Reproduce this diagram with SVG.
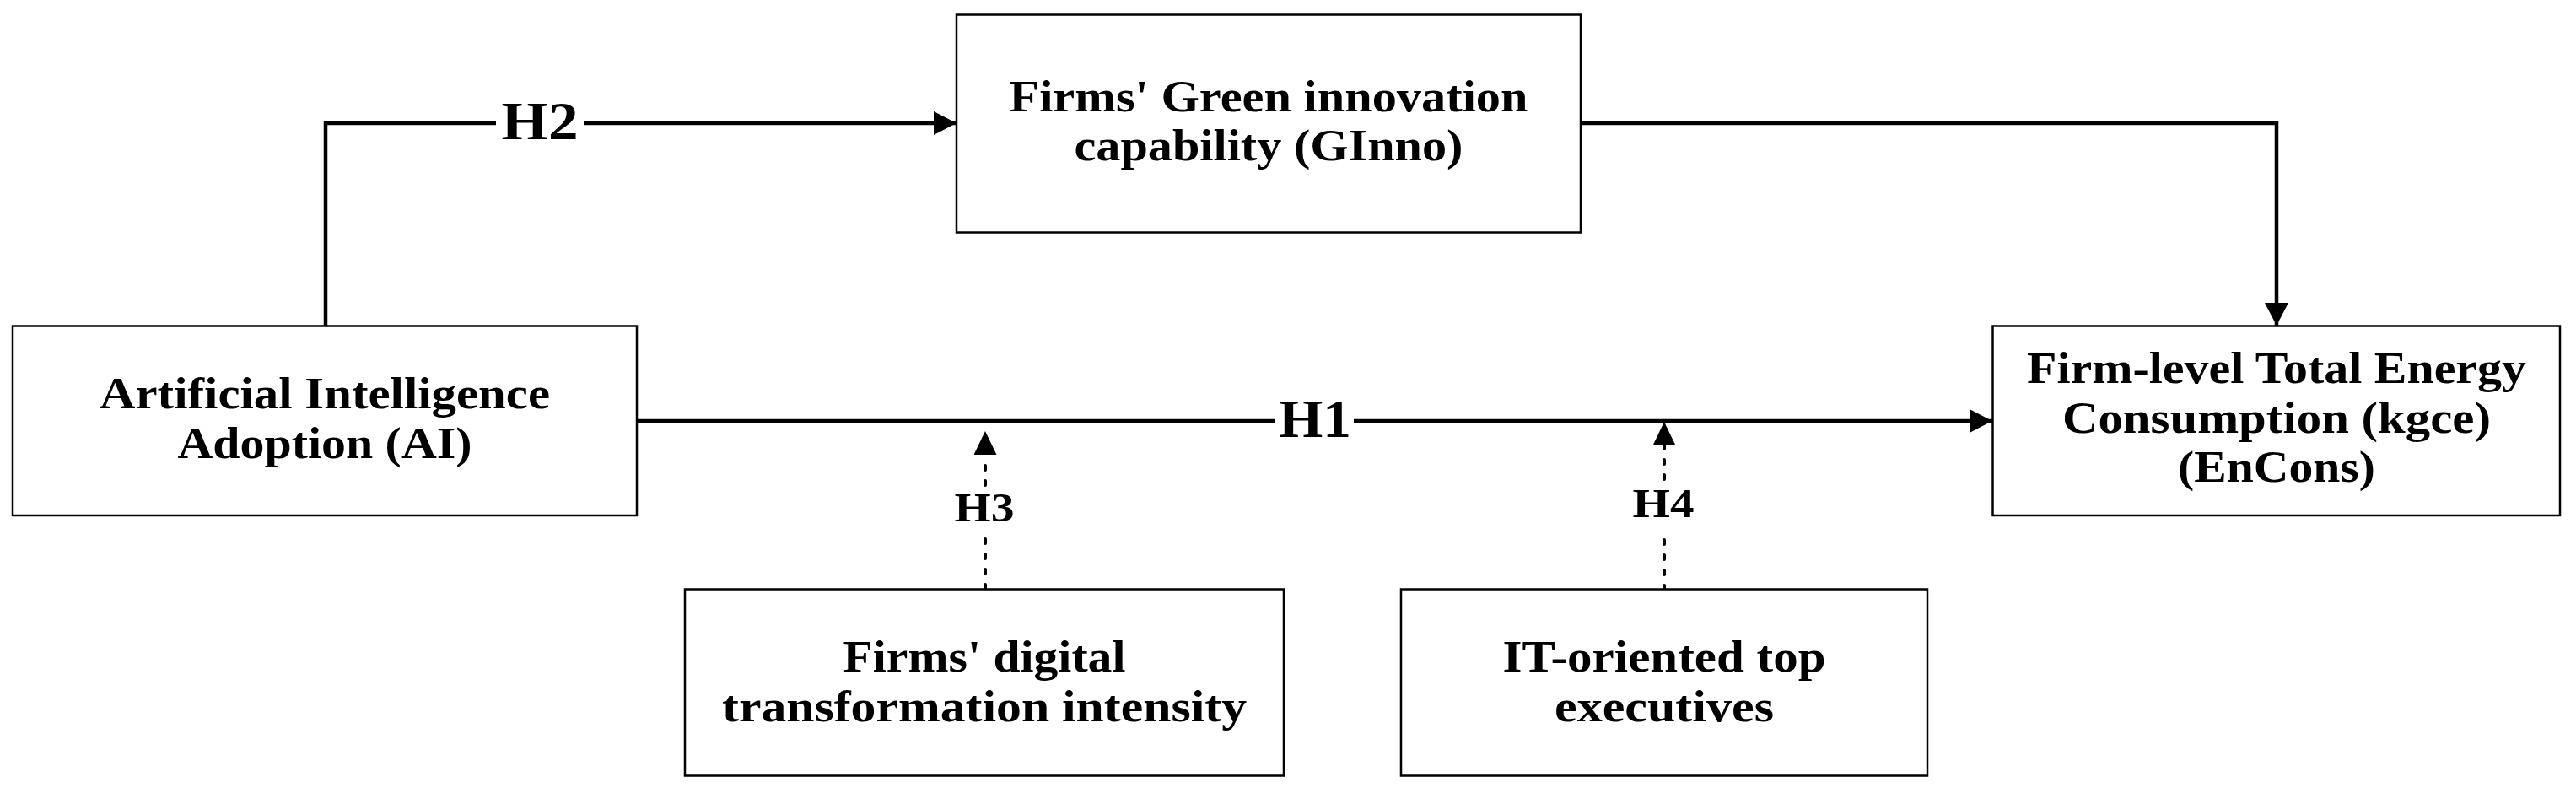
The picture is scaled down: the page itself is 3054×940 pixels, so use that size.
<svg xmlns="http://www.w3.org/2000/svg" width="3054" height="940" viewBox="0 0 3054 940">
<style>
.box{fill:#fff;stroke:#000;stroke-width:2.5}
.t{font-family:"Liberation Serif","Times New Roman",serif;font-weight:bold;font-size:52px;fill:#000;text-anchor:middle}
.h{font-family:"Liberation Serif","Times New Roman",serif;font-weight:bold;fill:#000;text-anchor:middle}
.ln{fill:none;stroke:#000;stroke-width:4.5}
.dl{fill:none;stroke:#000;stroke-width:4;stroke-dasharray:5 13;stroke-linecap:round}
</style>
<defs>
<marker id="ah" markerUnits="userSpaceOnUse" markerWidth="28" markerHeight="28" refX="27" refY="14" orient="auto" viewBox="0 0 28 28">
<path d="M0,0 L27,14 L0,28 Z" fill="#000"/>
</marker>
<marker id="ahd" markerUnits="userSpaceOnUse" markerWidth="28" markerHeight="28" refX="0" refY="13.5" orient="auto" viewBox="0 0 28 28">
<path d="M0,0 L28,13.5 L0,27 Z" fill="#000"/>
</marker>
</defs>
<rect width="3054" height="940" fill="#fff"/>
<g id="connectors">
<path class="ln" d="M755,499 H1512"/>
<path class="ln" d="M1605,499 H2362" marker-end="url(#ah)"/>
<path class="ln" d="M386,386 V146 H588"/>
<path class="ln" d="M692,146 H1134" marker-end="url(#ah)"/>
<path class="ln" d="M1874,146 H2699 V386" marker-end="url(#ah)"/>
<path class="dl" d="M1168,698 V635"/>
<path class="dl" d="M1168,575 V539" marker-end="url(#ahd)"/>
<path class="dl" d="M1973,699 V630"/>
<path class="dl" d="M1973,568 V528" marker-end="url(#ahd)"/>
<text class="h" x="1559" y="518" font-size="64" textLength="86" lengthAdjust="spacingAndGlyphs">H1</text>
<text class="h" x="640" y="165" font-size="64" textLength="91" lengthAdjust="spacingAndGlyphs">H2</text>
<text class="h" x="1167" y="618" font-size="48" textLength="71" lengthAdjust="spacingAndGlyphs">H3</text>
<text class="h" x="1972" y="613" font-size="48" textLength="73" lengthAdjust="spacingAndGlyphs">H4</text>
</g>
<g id="node-ai">
<rect class="box" x="15" y="386.5" width="740" height="224.5"/>
<text class="t" x="385" y="484" textLength="534" lengthAdjust="spacingAndGlyphs">Artificial Intelligence</text>
<text class="t" x="385" y="543" textLength="349" lengthAdjust="spacingAndGlyphs">Adoption (AI)</text>
</g>
<g id="node-ginno">
<rect class="box" x="1134" y="17.5" width="740" height="258"/>
<text class="t" x="1504" y="131.5" textLength="615" lengthAdjust="spacingAndGlyphs">Firms' Green innovation</text>
<text class="t" x="1504" y="190" textLength="461" lengthAdjust="spacingAndGlyphs">capability (GInno)</text>
</g>
<g id="node-encons">
<rect class="box" x="2362.5" y="386.5" width="672.5" height="224.5"/>
<text class="t" x="2699" y="454" textLength="592" lengthAdjust="spacingAndGlyphs">Firm-level Total Energy</text>
<text class="t" x="2699" y="513" textLength="508" lengthAdjust="spacingAndGlyphs">Consumption (kgce)</text>
<text class="t" x="2699" y="570.5" textLength="234" lengthAdjust="spacingAndGlyphs">(EnCons)</text>
</g>
<g id="node-digital">
<rect class="box" x="812" y="698.5" width="710" height="221"/>
<text class="t" x="1167" y="796" textLength="335" lengthAdjust="spacingAndGlyphs">Firms' digital</text>
<text class="t" x="1167" y="855" textLength="622" lengthAdjust="spacingAndGlyphs">transformation intensity</text>
</g>
<g id="node-itexec">
<rect class="box" x="1661" y="698.5" width="624" height="221"/>
<text class="t" x="1973" y="796" textLength="383" lengthAdjust="spacingAndGlyphs">IT-oriented top</text>
<text class="t" x="1973" y="855" textLength="260" lengthAdjust="spacingAndGlyphs">executives</text>
</g>
</svg>
